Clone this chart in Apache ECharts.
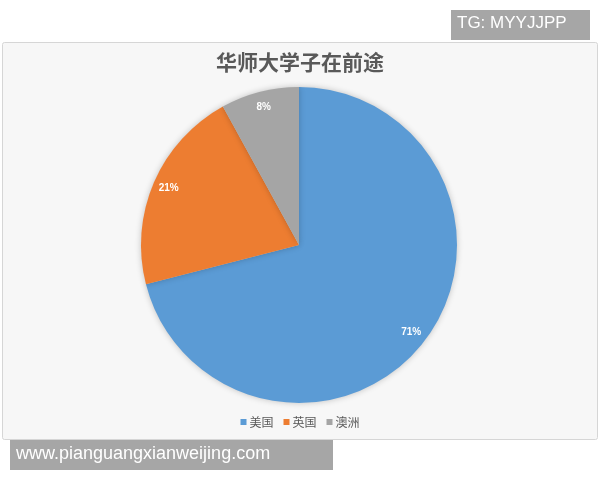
<!DOCTYPE html>
<html>
<head>
<meta charset="utf-8">
<script src="https://cdn.jsdelivr.net/npm/echarts@6/dist/echarts.min.js"></script>
<style>
  html, body { margin: 0; padding: 0; background: #fff; }
  #chart { width: 600px; height: 480px; }
</style>
</head>
<body>
<div id="chart"></div>
<script>
// 数据
var regions = ['美国', '英国', '澳洲'];
var shares = [71, 21, 8];
var colors = ['#5b9bd5', '#ed7d31', '#a5a5a5'];

var pieData = [];
for (var i = 0; i < regions.length; i++) {
    pieData.push({ name: regions[i], value: shares[i] });
}

var myChart = echarts.init(document.getElementById('chart'));
var option = {
    color: colors,
    animation: false,
    title: {
        text: '华师大学子在前途',
        left: 'center',
        top: 47,
        textStyle: { fontSize: 21, fontWeight: 'bold', color: '#595959', fontFamily: 'Noto Sans CJK SC' }
    },
    legend: {
        data: regions,
        bottom: 47,
        left: 'center',
        icon: 'rect',
        itemWidth: 6,
        itemHeight: 6,
        itemGap: 10,
        textStyle: { fontSize: 12, color: '#595959', fontFamily: 'Noto Sans CJK SC', padding: [0, 0, 0, -2] }
    },
    graphic: [
        { type: 'rect', z: -10, shape: { x: 2.5, y: 42.5, width: 595, height: 397, r: 2 },
          style: { fill: '#f7f7f7', stroke: '#d6d6d6', lineWidth: 1 } },
        { type: 'rect', z: 10, shape: { x: 451, y: 10, width: 139, height: 30 }, style: { fill: '#a6a6a6' } },
        { type: 'text', z: 11, left: 457, top: 15,
          style: { text: 'TG: MYYJJPP', fill: '#fff', fontSize: 17, fontFamily: 'Liberation Sans' } },
        { type: 'rect', z: 10, shape: { x: 10, y: 440, width: 323, height: 30 }, style: { fill: '#a6a6a6' } },
        { type: 'text', z: 11, left: 16, top: 445,
          style: { text: 'www.pianguangxianweijing.com', fill: '#fff', fontSize: 18, fontFamily: 'Liberation Sans' } }
    ],
    series: [
        {
            type: 'pie',
            center: [299, 245],
            radius: [0, 158],
            startAngle: 90,
            data: pieData,
            label: { show: false },
            labelLine: { show: false },
            itemStyle: { borderWidth: 0, shadowBlur: 6, shadowColor: 'rgba(0,0,0,0.22)' },
            emphasis: { disabled: true }
        },
        {
            // 只用来放百分比标签
            type: 'pie',
            center: [299, 245],
            radius: [120, 158],
            startAngle: 90,
            silent: true,
            data: pieData,
            itemStyle: { color: 'transparent' },
            label: {
                show: true,
                position: 'inside',
                formatter: '{c}%',
                color: '#fff',
                fontSize: 10,
                fontWeight: 'bold',
                fontFamily: 'Liberation Sans'
            },
            labelLine: { show: false },
            emphasis: { disabled: true }
        }
    ]
};
myChart.setOption(option);
</script>
</body>
</html>
